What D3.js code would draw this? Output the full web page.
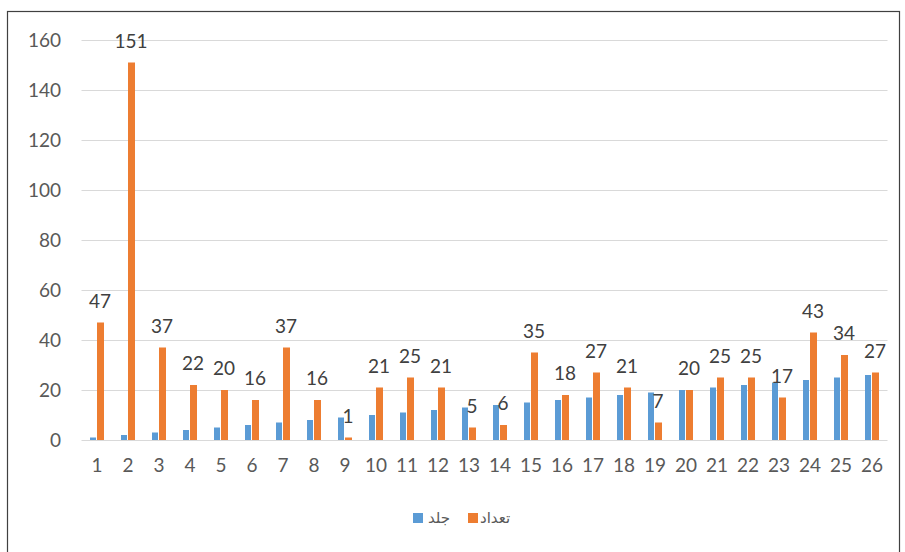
<!DOCTYPE html>
<html><head><meta charset="utf-8">
<script src="https://cdn.jsdelivr.net/npm/d3@7"></script>
<style>body{margin:0;background:#fff}svg{display:block}</style>
</head><body>
<svg id="c" width="905" height="552"></svg>
<script>
const categories = ["1","2","3","4","5","6","7","8","9","10","11","12","13","14","15","16","17","18","19","20","21","22","23","24","25","26"];
const volumeValues = [1,2,3,4,5,6,7,8,9,10,11,12,13,14,15,16,17,18,19,20,21,22,23,24,25,26];
const countValues = [47,151,37,22,20,16,37,16,1,21,25,21,5,6,35,18,27,21,7,20,25,25,17,43,34,27];
const yTicks = [0,20,40,60,80,100,120,140,160];
const seriesNames = ["جلد","تعداد"];
const colors = ["#5B9BD5","#ED7D31"];

const svg = d3.select("#c");
svg.append("rect").attr("x",7.5).attr("y",11.5).attr("width",892).attr("height",560)
  .attr("fill","#fff").attr("stroke","#404040").attr("stroke-width",1.2);

const x = d3.scaleBand().domain(categories).range([81.5,887.5]);
const y = d3.scaleLinear().domain([0,160]).range([440,40]);
const FONT = "Lato, Open Sans, sans-serif";

// gridlines
svg.append("g").selectAll("line").data(yTicks).join("line")
  .attr("x1",81.5).attr("x2",887.5)
  .attr("y1",d=>y(d)+0.5).attr("y2",d=>y(d)+0.5)
  .attr("stroke","#d9d9d9").attr("stroke-width",1);

// y axis labels
const yAxis = d3.axisLeft(y).tickValues(yTicks).tickSize(0).tickPadding(0);
const ya = svg.append("g").attr("transform","translate(61,0)").call(yAxis);
ya.select(".domain").remove();
ya.selectAll("text").attr("font-family",FONT).attr("font-size",19).attr("fill","#595959");

// x axis labels
const xAxis = d3.axisBottom(x).tickSize(0).tickPadding(0);
const xa = svg.append("g").attr("transform","translate(0,458)").call(xAxis);
xa.select(".domain").remove();
xa.selectAll("text").attr("font-family",FONT).attr("font-size",19).attr("fill","#595959");

// blue bars
svg.append("g").selectAll("rect").data(volumeValues).join("rect")
  .attr("x",(d,i)=>x(categories[i]) + x.bandwidth()/2 - 7)
  .attr("width",6)
  .attr("y",d=>y(d)).attr("height",d=>y(0)-y(d))
  .attr("fill",colors[0]);
// orange bars
svg.append("g").selectAll("rect").data(countValues).join("rect")
  .attr("x",(d,i)=>x(categories[i]) + x.bandwidth()/2)
  .attr("width",7)
  .attr("y",d=>y(d)).attr("height",d=>y(0)-y(d))
  .attr("fill",colors[1]);
// labels
svg.append("g").selectAll("text").data(countValues).join("text")
  .attr("x",(d,i)=>x(categories[i]) + x.bandwidth()/2 + 3)
  .attr("y",d=>y(d)-15)
  .attr("text-anchor","middle")
  .attr("font-family",FONT).attr("font-size",19).attr("fill","#404040")
  .text(d=>d);

// legend
const lg = svg.append("g").attr("font-family","Noto Sans, DejaVu Sans, sans-serif").attr("font-size",15).attr("fill","#595959");
lg.append("rect").attr("x",413).attr("y",513).attr("width",10).attr("height",10).attr("fill",colors[0]);
lg.append("text").attr("x",428).attr("y",523).attr("text-anchor","start").attr("direction","ltr").text(seriesNames[0]);
lg.append("rect").attr("x",468).attr("y",513).attr("width",10).attr("height",10).attr("fill",colors[1]);
lg.append("text").attr("x",480).attr("y",523).attr("text-anchor","start").attr("direction","ltr").text(seriesNames[1]);
</script>
</body></html>
